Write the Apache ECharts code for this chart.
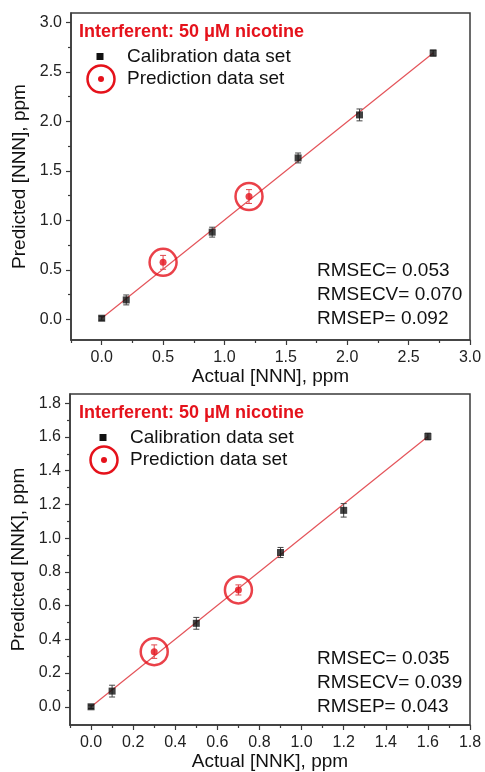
<!DOCTYPE html>
<html>
<head>
<meta charset="utf-8">
<script src="https://cdn.jsdelivr.net/npm/echarts@6/dist/echarts.min.js"></script>
<style>
  html, body { margin: 0; padding: 0; background: #fff; }
  #chart { width: 485px; height: 772px; }
</style>
</head>
<body>
<div id="chart"></div>
<script>
// NNN panel
const nnnCalX = [0, 0.2, 0.9, 1.6, 2.1, 2.7]
const nnnCalY = [0.01, 0.195, 0.88, 1.63, 2.065, 2.69]
const nnnCalErr = [0.02, 0.05, 0.05, 0.05, 0.06, 0.03]
const nnnPredX = [0.5, 1.2]
const nnnPredY = [0.575, 1.24]
const nnnPredErr = [0.07, 0.07]
const nnnFitX = [0, 2.7]
const nnnFitY = [0.01, 2.69]
const nnnXTicks = [0, 0.5, 1, 1.5, 2, 2.5, 3]
const nnnXMinor = [-0.25, 0.25, 0.75, 1.25, 1.75, 2.25, 2.75]
const nnnYTicks = [0, 0.5, 1, 1.5, 2, 2.5, 3]
const nnnYMinor = [0.25, 0.75, 1.25, 1.75, 2.25, 2.75]
const nnnStats = ['RMSEC= 0.053', 'RMSECV= 0.070', 'RMSEP= 0.092']

// NNK panel
const nnkCalX = [0, 0.1, 0.5, 0.9, 1.2, 1.6]
const nnkCalY = [0.0, 0.093, 0.495, 0.915, 1.165, 1.603]
const nnkCalErr = [0.01, 0.035, 0.035, 0.03, 0.04, 0.02]
const nnkPredX = [0.3, 0.7]
const nnkPredY = [0.327, 0.693]
const nnkPredErr = [0.04, 0.03]
const nnkFitX = [0, 1.6]
const nnkFitY = [0.0, 1.603]
const nnkXTicks = [0, 0.2, 0.4, 0.6, 0.8, 1, 1.2, 1.4, 1.6, 1.8]
const nnkXMinor = [-0.1, 0.1, 0.3, 0.5, 0.7, 0.9, 1.1, 1.3, 1.5, 1.7]
const nnkYTicks = [0, 0.2, 0.4, 0.6, 0.8, 1, 1.2, 1.4, 1.6, 1.8]
const nnkYMinor = [0.1, 0.3, 0.5, 0.7, 0.9, 1.1, 1.3, 1.5, 1.7]
const nnkStats = ['RMSEC= 0.035', 'RMSECV= 0.039', 'RMSEP= 0.043']

const FONT = '"Liberation Sans", Arial, sans-serif'
const RED = '#e5121b'
const FRAME = '#3a3a3a'

const zip = (...cols) => cols[0].map((_, i) => cols.map(c => c[i]))

function errorBar(color) {
  return function (params, api) {
    const x = api.value(0), y = api.value(1), e = api.value(2)
    const hi = api.coord([x, y + e])
    const lo = api.coord([x, y - e])
    const w = 3
    const st = { stroke: color, lineWidth: 1 }
    return {
      type: 'group',
      children: [
        { type: 'line', shape: { x1: hi[0], y1: hi[1], x2: lo[0], y2: lo[1] }, style: st },
        { type: 'line', shape: { x1: hi[0] - w, y1: hi[1], x2: hi[0] + w, y2: hi[1] }, style: st },
        { type: 'line', shape: { x1: lo[0] - w, y1: lo[1], x2: lo[0] + w, y2: lo[1] }, style: st }
      ]
    }
  }
}

function axisPair(kind, gridIndex, min, max, ticks, minor, name, nameGap) {
  const main = {
    type: 'value',
    gridIndex,
    min, max,
    name,
    nameLocation: 'middle',
    nameGap,
    nameTextStyle: { fontFamily: FONT, fontSize: 19, color: '#111' },
    axisLine: { show: true, onZero: false, lineStyle: { color: FRAME, width: 1.5 } },
    axisTick: { show: true, inside: false, length: 5, customValues: ticks, lineStyle: { color: FRAME, width: 1.2 } },
    axisLabel: {
      customValues: ticks,
      formatter: v => v.toFixed(1),
      fontFamily: FONT, fontSize: 16, color: '#222',
      margin: kind === 'x' ? 10 : 9
    },
    splitLine: { show: false }
  }
  const sub = {
    type: 'value',
    gridIndex,
    min, max,
    offset: 0,
    axisLine: { show: false, onZero: false },
    axisTick: { show: true, inside: false, length: 3, customValues: minor, lineStyle: { color: FRAME, width: 1.2 } },
    axisLabel: { show: false },
    splitLine: { show: false }
  }
  if (kind === 'x') { main.position = 'bottom'; sub.position = 'bottom' }
  else { main.position = 'left'; sub.position = 'left' }
  return [main, sub]
}

function panelSeries(xi, yi, calX, calY, calErr, predX, predY, predErr, fitX, fitY) {
  return [
    {
      type: 'line', xAxisIndex: xi, yAxisIndex: yi,
      data: zip(fitX, fitY), symbol: 'none', silent: true,
      lineStyle: { color: '#e4545a', width: 1.2 }, z: 2
    },
    {
      type: 'custom', xAxisIndex: xi, yAxisIndex: yi,
      data: zip(calX, calY, calErr), renderItem: errorBar('#444'), z: 3
    },
    {
      type: 'custom', xAxisIndex: xi, yAxisIndex: yi,
      data: zip(predX, predY, predErr), renderItem: errorBar('#e0474d'), z: 3
    },
    {
      type: 'scatter', xAxisIndex: xi, yAxisIndex: yi,
      data: zip(calX, calY), symbol: 'rect', symbolSize: 7,
      itemStyle: { color: '#111' }, z: 4
    },
    {
      type: 'scatter', xAxisIndex: xi, yAxisIndex: yi,
      data: zip(predX, predY), symbol: 'circle', symbolSize: 7,
      itemStyle: { color: RED }, z: 4
    },
    {
      type: 'scatter', xAxisIndex: xi, yAxisIndex: yi,
      data: zip(predX, predY), symbol: 'circle', symbolSize: 27,
      itemStyle: { color: 'rgba(0,0,0,0)', borderColor: RED, borderWidth: 2.5 }, z: 4
    }
  ]
}

function annotations(top, textX, symX, statsTop, stats) {
  const txt = (x, y, s, bold, color) => ({
    type: 'text', x, y,
    style: {
      text: s, fill: color || '#111',
      font: (bold ? 'bold ' : '') + (bold ? '18px ' : '19px ') + FONT,
      verticalAlign: 'middle'
    },
    z: 10
  })
  return [
    txt(79, top, 'Interferent: 50 \u03bcM nicotine', true, RED),
    { type: 'rect', shape: { x: symX - 3.5, y: top + 21, width: 7, height: 7 }, style: { fill: '#111' }, z: 10 },
    txt(textX, top + 24.5, 'Calibration data set'),
    { type: 'circle', shape: { cx: symX + 1, cy: top + 47, r: 13.5 }, style: { fill: 'none', stroke: RED, lineWidth: 2.5 }, z: 10 },
    { type: 'circle', shape: { cx: symX + 1, cy: top + 47, r: 3 }, style: { fill: RED }, z: 10 },
    txt(textX, top + 47, 'Prediction data set'),
    txt(317, statsTop, stats[0]),
    txt(317, statsTop + 24, stats[1]),
    txt(317, statsTop + 48, stats[2])
  ]
}

const chart = echarts.init(document.getElementById('chart'), null, { renderer: 'canvas' })

const nnnX = axisPair('x', 0, -0.25, 3.0, nnnXTicks, nnnXMinor, 'Actual [NNN], ppm', 27)
const nnnY = axisPair('y', 0, -0.21, 3.095, nnnYTicks, nnnYMinor, 'Predicted [NNN], ppm', 31)
const nnkX = axisPair('x', 1, -0.1, 1.8, nnkXTicks, nnkXMinor, 'Actual [NNK], ppm', 27)
const nnkY = axisPair('y', 1, -0.108, 1.855, nnkYTicks, nnkYMinor, 'Predicted [NNK], ppm', 31)

const option = {
  backgroundColor: '#fff',
  animation: false,
  grid: [
    { left: 71, top: 13, width: 399, height: 327, show: true, borderColor: FRAME, borderWidth: 1.5, backgroundColor: 'transparent' },
    { left: 70, top: 394, width: 400, height: 332, show: true, borderColor: FRAME, borderWidth: 1.5, backgroundColor: 'transparent' }
  ],
  xAxis: [nnnX[0], nnnX[1], nnkX[0], nnkX[1]],
  yAxis: [nnnY[0], nnnY[1], nnkY[0], nnkY[1]],
  series: [
    ...panelSeries(0, 0, nnnCalX, nnnCalY, nnnCalErr, nnnPredX, nnnPredY, nnnPredErr, nnnFitX, nnnFitY),
    ...panelSeries(2, 2, nnkCalX, nnkCalY, nnkCalErr, nnkPredX, nnkPredY, nnkPredErr, nnkFitX, nnkFitY)
  ],
  graphic: [
    ...annotations(32, 127, 100, 271, nnnStats),
    ...annotations(413, 130, 103, 659, nnkStats)
  ]
}

chart.setOption(option)
</script>
</body>
</html>
